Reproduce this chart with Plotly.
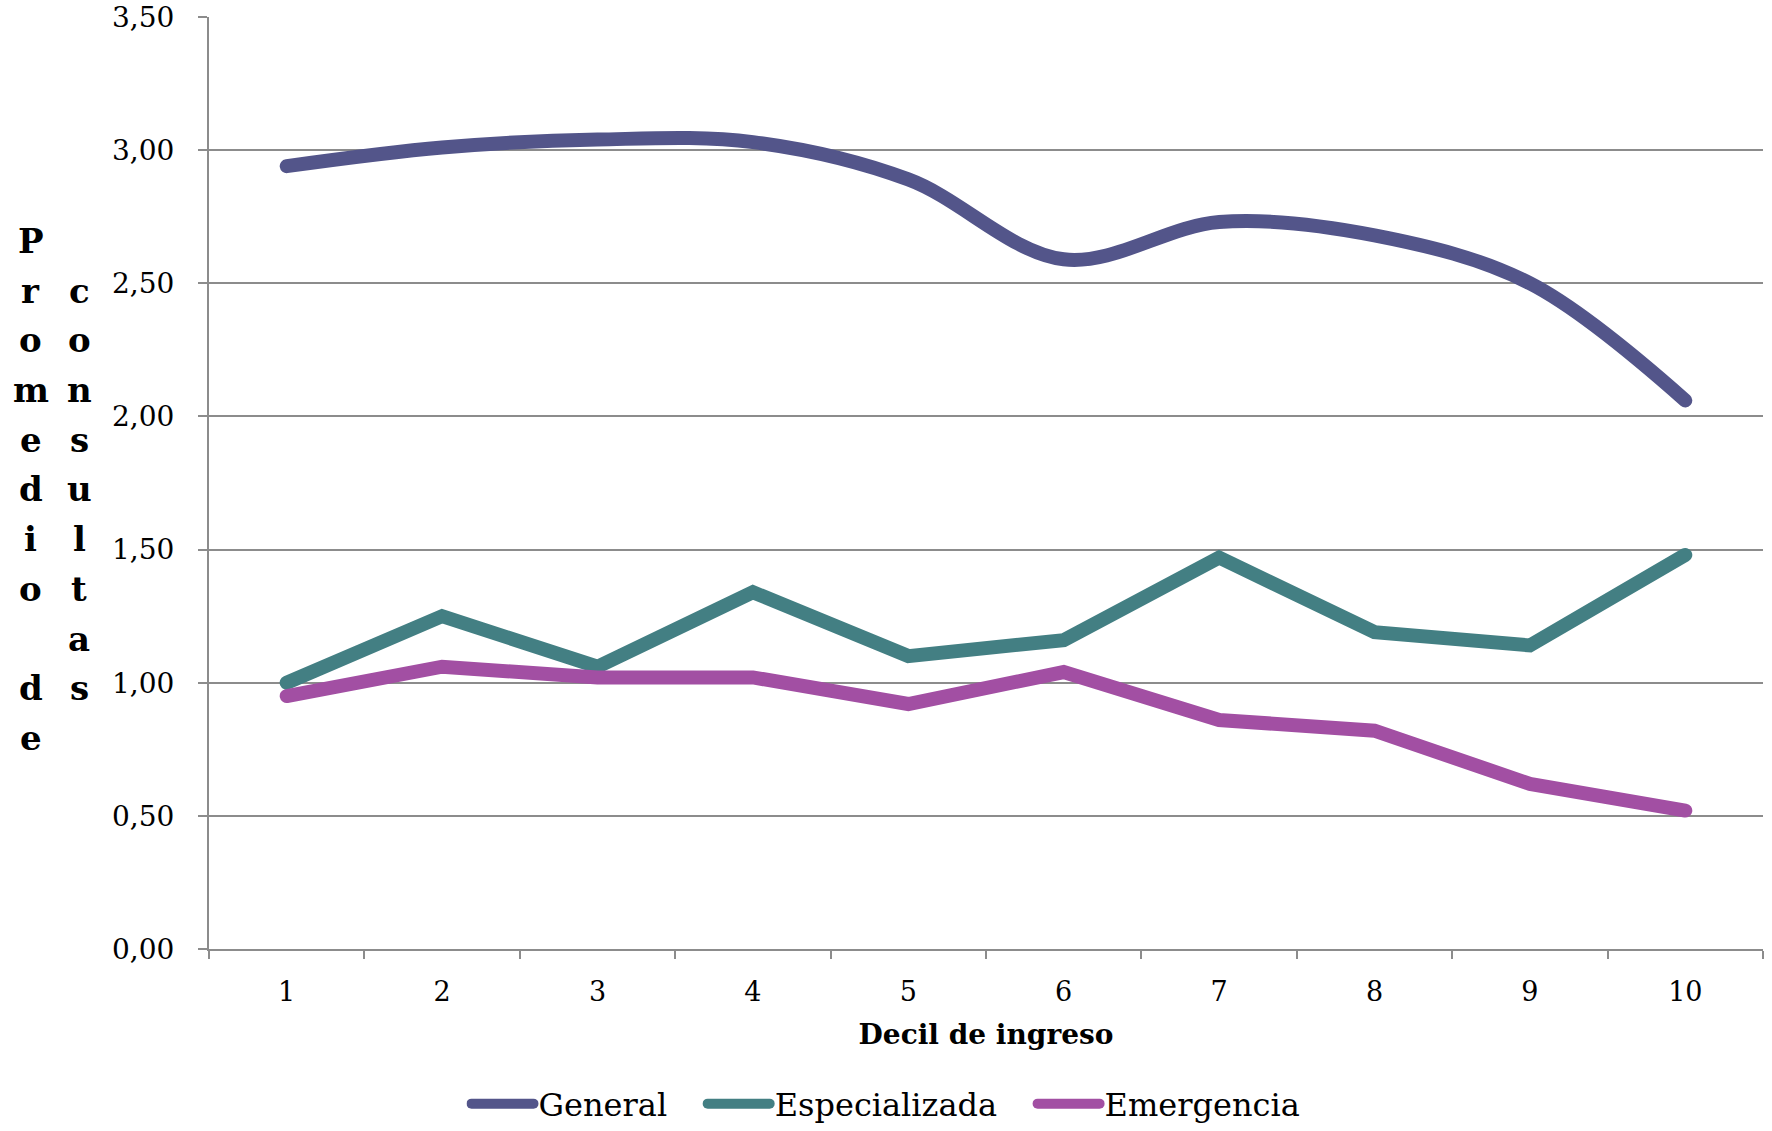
import plotly.graph_objects as go

# Average number of consultations by income decile
deciles = ["1", "2", "3", "4", "5", "6", "7", "8", "9", "10"]
general = [2.94, 3.01, 3.04, 3.03, 2.89, 2.59, 2.73, 2.68, 2.50, 2.06]
especializada = [1.00, 1.25, 1.06, 1.34, 1.10, 1.16, 1.47, 1.19, 1.14, 1.48]
emergencia = [0.95, 1.06, 1.02, 1.02, 0.92, 1.04, 0.86, 0.82, 0.62, 0.52]

series_names = ["General", "Especializada", "Emergencia"]
series_colors = ["#53558a", "#437f83", "#a24fa3"]

y_title_words = ["Promedio de", "consultas"]
x_title = "Decil de ingreso"

W, H = 1772, 1131
L, R, T, B = 209, 9, 17, 182
FONT = "DejaVu Serif"
GRID = "#8c8c8c"
GAP = "\u00a0" * 3  # spacing after each legend label

fig = go.Figure()
fig.add_trace(go.Scatter(x=deciles, y=general, name=series_names[0] + GAP, mode="lines",
                         line=dict(color=series_colors[0], width=14, shape="spline", smoothing=1.0)))
fig.add_trace(go.Scatter(x=deciles, y=especializada, name=series_names[1] + GAP, mode="lines",
                         line=dict(color=series_colors[1], width=14)))
fig.add_trace(go.Scatter(x=deciles, y=emergencia, name=series_names[2], mode="lines",
                         line=dict(color=series_colors[2], width=14)))

# Stacked, letter-by-letter y-axis title in two columns
plot_w = W - L - R
plot_h = H - T - B
row0, row_step = 241, 49.7
col_x = [30.5, 79]
annotations = []
for c, word in enumerate(y_title_words):
    offset = (len(y_title_words[0]) - len(word)) // 2
    for i, ch in enumerate(word):
        if ch == " ":
            continue
        py = row0 + (i + offset) * row_step
        annotations.append(dict(
            text=f"<b>{ch}</b>", xref="paper", yref="paper",
            x=(col_x[c] - L) / plot_w, y=(H - B - py) / plot_h,
            xanchor="center", yanchor="middle", showarrow=False,
            font=dict(family=FONT, size=34, color="#000000"),
        ))

fig.update_layout(
    width=W, height=H,
    margin=dict(l=L, r=R, t=T, b=B, pad=0, autoexpand=False),
    paper_bgcolor="white", plot_bgcolor="white",
    separators=",.",
    font=dict(family=FONT, color="#000000"),
    showlegend=True,
    legend=dict(orientation="h", xref="container", yref="container",
                x=0.5, xanchor="center", y=0.024, yanchor="middle",
                font=dict(family=FONT, size=32, color="#000000"),
                itemwidth=62, tracegroupgap=0, bgcolor="rgba(0,0,0,0)"),
    annotations=annotations,
)

fig.update_xaxes(
    type="category", categoryorder="array", categoryarray=deciles,
    range=[-0.5, len(deciles) - 0.5], automargin=False,
    showline=True, linecolor=GRID, linewidth=2,
    ticks="outside", tickson="boundaries", ticklen=8, tickwidth=2, tickcolor=GRID,
    showgrid=False, zeroline=False,
    tickfont=dict(family=FONT, size=27, color="#000000"),
    ticklabelstandoff=18,
    title=dict(text=f"<b>{x_title}</b>", font=dict(family=FONT, size=28, color="#000000"), standoff=18),
)
fig.update_yaxes(
    range=[0, 3.5], dtick=0.5, tick0=0, tickformat=".2f", automargin=False,
    showline=True, linecolor=GRID, linewidth=2,
    ticks="outside", ticklen=9, tickwidth=2, tickcolor=GRID,
    showgrid=True, gridcolor=GRID, gridwidth=2, zeroline=False,
    tickfont=dict(family=FONT, size=28, color="#000000"),
    ticklabelstandoff=18,
)

post = """
document.querySelectorAll('.scatterlayer path.js-line, .legendlines path').forEach(function(p){
  p.style.strokeLinecap = 'round';
});
"""
fig.write_html("out.html", post_script=post)
